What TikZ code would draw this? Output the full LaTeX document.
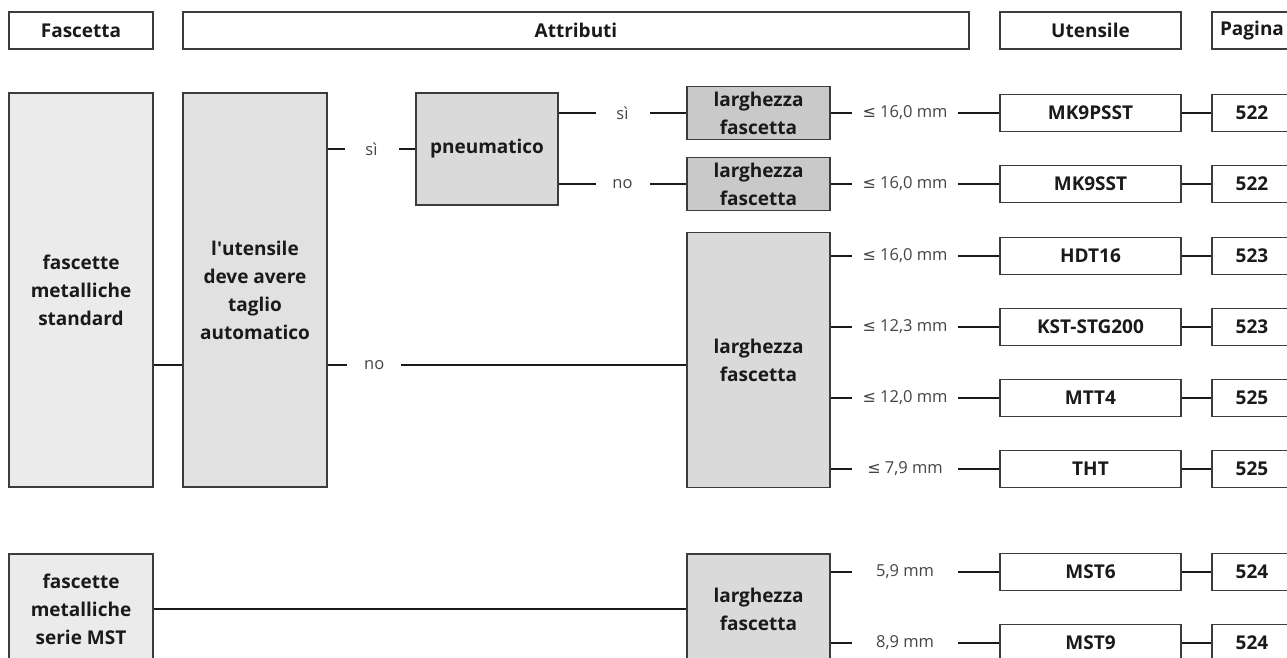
\documentclass[tikz,border=0pt]{standalone}
\usepackage{fontspec}
\setmainfont{Open Sans}
\newfontfamily\symf{DejaVu Sans}
\definecolor{bordc}{HTML}{3C3C3C}
\definecolor{linec}{HTML}{1A1A1A}
\definecolor{txtc}{HTML}{1A1A1A}
\definecolor{labc}{HTML}{454545}
\definecolor{fillA}{HTML}{EBEBEB}
\definecolor{fillB}{HTML}{E1E1E1}
\definecolor{fillC}{HTML}{DADADA}
\definecolor{fillD}{HTML}{C9C9C9}
\newcommand{\myle}{{\symf\fontsize{16}{18}\selectfont ≤}}
\begin{document}
\begin{tikzpicture}[x=1pt,y=-1pt,
  box/.style={draw=bordc, line width=1.3pt, rectangle, inner sep=0pt, align=center,
    text=txtc, font=\bfseries\fontsize{19}{28}\selectfont},
  hdr/.style={box, fill=white, minimum height=37},
  tool/.style={box, fill=white, minimum height=37},
  conn/.style={draw=linec, line width=2.2pt},
  lab/.style={fill=white, inner sep=0pt, minimum height=20, text=labc,
    font=\fontsize{16.5}{20}\selectfont},
  mm/.style={lab, minimum width=106, pos=0.441},
  yn/.style={lab, minimum width=54}
]
\useasboundingbox (0,0) rectangle (1287,657);
\clip (0,0) rectangle (1287,657);
\fill[white] (0,0) rectangle (1287,657);

% header
\node[hdr, minimum width=144] (hF) at (81,30.5) {Fascetta};
\node[hdr, minimum width=786] (hA) at (576,30.5) {Attributi};
\node[hdr, minimum width=181] (hU) at (1090.5,30.5) {Utensile};
\node[hdr, minimum width=80] (hP) at (1252,30.5) {Pagina};

% main boxes
\node[box, fill=fillA, minimum width=144, minimum height=394] (fs) at (81,290) {fascette\\metalliche\\standard};
\node[box, fill=fillB, minimum width=144, minimum height=394] (ut) at (255,290) {l\textquotesingle utensile\\deve avere\\taglio\\automatico};
\node[box, fill=fillC, minimum width=142, minimum height=112] (pn) at (487,149) {pneumatico};
\node[box, fill=fillD, minimum width=143, minimum height=53] (l1) at (758.5,113) {larghezza\\fascetta};
\node[box, fill=fillD, minimum width=143, minimum height=53] (l2) at (758.5,184) {larghezza\\fascetta};
\node[box, fill=fillC, minimum width=143, minimum height=255] (lb) at (758.5,360) {larghezza\\fascetta};
\node[box, fill=fillA, minimum width=144, minimum height=110] (fm) at (81,609) {fascette\\metalliche\\serie MST};
\node[box, fill=fillC, minimum width=143, minimum height=110] (lm) at (758.5,609) {larghezza\\fascetta};

% tools and pages
\node[tool, minimum width=181] (t1) at (1090.5,113) {MK9PSST};
\node[tool, minimum width=181] (t2) at (1090.5,184) {MK9SST};
\node[tool, minimum width=181] (t3) at (1090.5,256) {HDT16};
\node[tool, minimum width=181] (t4) at (1090.5,327) {KST-STG200};
\node[tool, minimum width=181] (t5) at (1090.5,398) {MTT4};
\node[tool, minimum width=181] (t6) at (1090.5,469) {THT};
\node[tool, minimum width=181] (t7) at (1090.5,572) {MST6};
\node[tool, minimum width=181] (t8) at (1090.5,643) {MST9};

\node[tool, minimum width=80] (p1) at (1252,113) {522};
\node[tool, minimum width=80] (p2) at (1252,184) {522};
\node[tool, minimum width=80] (p3) at (1252,256) {523};
\node[tool, minimum width=80] (p4) at (1252,327) {523};
\node[tool, minimum width=80] (p5) at (1252,398) {525};
\node[tool, minimum width=80] (p6) at (1252,469) {525};
\node[tool, minimum width=80] (p7) at (1252,572) {524};
\node[tool, minimum width=80] (p8) at (1252,643) {524};

\coordinate (rowno) at (0,365);

% connectors
\draw[conn] (fs.east |- rowno) -- (ut.west |- rowno);
\draw[conn] (ut.east |- pn.west) -- node[yn, pos=0.5] {sì} (pn.west);
\draw[conn] (ut.east |- rowno) -- node[yn, pos=0.13] {no} (lb.west |- rowno);
\draw[conn] (pn.east |- l1.west) -- node[yn, pos=0.5] {sì} (l1.west);
\draw[conn] (pn.east |- l2.west) -- node[yn, pos=0.5] {no} (l2.west);

\draw[conn] (l1.east) -- node[mm] {\myle\ 16,0 mm} (t1.west);
\draw[conn] (l2.east) -- node[mm] {\myle\ 16,0 mm} (t2.west);
\draw[conn] (lb.east |- t3.west) -- node[mm] {\myle\ 16,0 mm} (t3.west);
\draw[conn] (lb.east |- t4.west) -- node[mm] {\myle\ 12,3 mm} (t4.west);
\draw[conn] (lb.east |- t5.west) -- node[mm] {\myle\ 12,0 mm} (t5.west);
\draw[conn] (lb.east |- t6.west) -- node[mm] {\myle\ 7,9 mm} (t6.west);

\draw[conn] (fm.east) -- (lm.west);
\draw[conn] (lm.east |- t7.west) -- node[mm] {5,9 mm} (t7.west);
\draw[conn] (lm.east |- t8.west) -- node[mm] {8,9 mm} (t8.west);

\foreach \i in {1,...,8} { \draw[conn] (t\i.east) -- (p\i.west); }
\end{tikzpicture}
\end{document}
